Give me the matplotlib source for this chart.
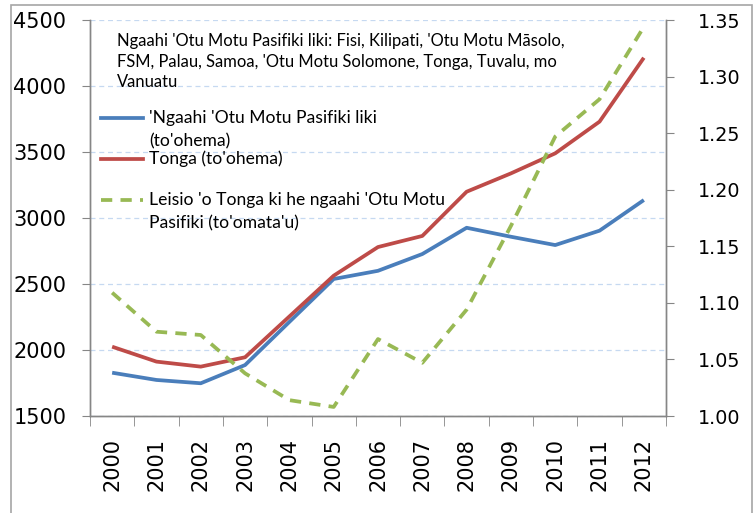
import matplotlib
matplotlib.use("Agg")
import matplotlib.pyplot as plt
from matplotlib.patches import Rectangle
from matplotlib.lines import Line2D
import numpy as np

years = ["2000", "2001", "2002", "2003", "2004", "2005", "2006",
         "2007", "2008", "2009", "2010", "2011", "2012"]
pacific = [1828, 1773, 1748, 1886, 2213, 2538, 2600, 2727, 2926, 2858, 2795, 2904, 3136]
tonga = [2025, 1912, 1874, 1945, 2254, 2563, 2780, 2864, 3199, 3338, 3490, 3730, 4214]
ratio = [1.109, 1.0745, 1.0716, 1.0377, 1.014, 1.008, 1.068, 1.047, 1.094, 1.168, 1.247, 1.280, 1.344]

left_ticks = [1500, 2000, 2500, 3000, 3500, 4000, 4500]
right_ticks = [1.00, 1.05, 1.10, 1.15, 1.20, 1.25, 1.30, 1.35]

title_lines = ["Ngaahi 'Otu Motu Pasifiki liki: Fisi, Kilipati, 'Otu Motu Māsolo,",
               "FSM, Palau, Samoa, 'Otu Motu Solomone, Tonga, Tuvalu, mo",
               "Vanuatu"]
labels = [["'Ngaahi 'Otu Motu Pasifiki liki", "(to'ohema)"],
          ["Tonga (to'ohema)"],
          ["Leisio 'o Tonga ki he ngaahi 'Otu Motu", "Pasifiki (to'omata'u)"]]

blue = "#4a7ebb"
red = "#be4b48"
green = "#98b954"
spine_c = "#868686"

W, H = 753, 513
fig = plt.figure(figsize=(W / 100, H / 100), dpi=100)
ax = fig.add_axes([90 / W, 1 - 416 / H, (666 - 90) / W, (416 - 20) / H])
ax2 = ax.twinx()

x = np.arange(len(years))
ax.plot(x, pacific, color=blue, lw=2.7, solid_capstyle="butt", zorder=3)
ax.plot(x, tonga, color=red, lw=2.7, solid_capstyle="butt", zorder=3)
ax2.plot(x, ratio, color=green, lw=2.7, dashes=(3, 2.2), zorder=3)

ax.set_xlim(-0.5, len(years) - 0.5)
ax.set_ylim(1500, 4500)
ax2.set_ylim(1.0, 1.35)
ax.set_yticks(left_ticks)
ax.set_yticklabels([str(v) for v in left_ticks], fontsize=15, family="DejaVu Sans")
ax2.set_yticks(right_ticks)
ax2.set_yticklabels([f"{v:.2f}" for v in right_ticks], fontsize=13.8, family="DejaVu Sans")

ax.set_xticks(x)
ax.set_xticklabels(years, rotation=90, fontsize=15, family="DejaVu Sans")
ax.set_xticks(np.arange(-0.5, len(years)), minor=True)
ax.tick_params(axis="x", which="major", length=0, pad=16)
ax.tick_params(axis="x", which="minor", length=7, color=spine_c, direction="out")
ax.tick_params(axis="y", length=6, color=spine_c, direction="out", pad=11)
ax2.tick_params(axis="y", length=6, color=spine_c, direction="out", pad=17)

ax.grid(axis="y", color="#c6d9f1", lw=0.9, ls=(0, (4, 3)))
ax.set_axisbelow(True)
for a in (ax, ax2):
    a.spines["top"].set_visible(False)
    for s in ("left", "right", "bottom"):
        a.spines[s].set_color(spine_c)
        a.spines[s].set_linewidth(1.0)

def px(xp, yp):
    return xp / W, 1 - yp / H

# Title text inside plot
for i, line in enumerate(title_lines):
    fig.text(*px(117, 41 + 20.5 * i), line, fontsize=11.9, family="Lato",
             va="center", ha="left")

# Legend drawn manually (Excel style: handle aligned with first text line)
colors = [blue, red, green]
handle_y = [118, 159, 200]
for c, yh, lab in zip(colors, handle_y, labels):
    kw = dict(dashes=(3, 2.2)) if c == green else {}
    x0, y0 = px(101, yh)
    x1, _ = px(143, yh)
    fig.add_artist(Line2D([x0, x1], [y0, y0], color=c, lw=2.7,
                          transform=fig.transFigure, **kw))
    for j, t in enumerate(lab):
        fig.text(*px(149, yh + 23 * j), t, fontsize=12.6, family="Lato",
                 va="center", ha="left")

fig.add_artist(Rectangle((11 / W, -0.05), (752 - 11) / W, 1.05 - 5 / H,
                         transform=fig.transFigure, fill=False,
                         edgecolor="#a6a6a6", lw=1.2))

fig.savefig("out.png", dpi=100)
